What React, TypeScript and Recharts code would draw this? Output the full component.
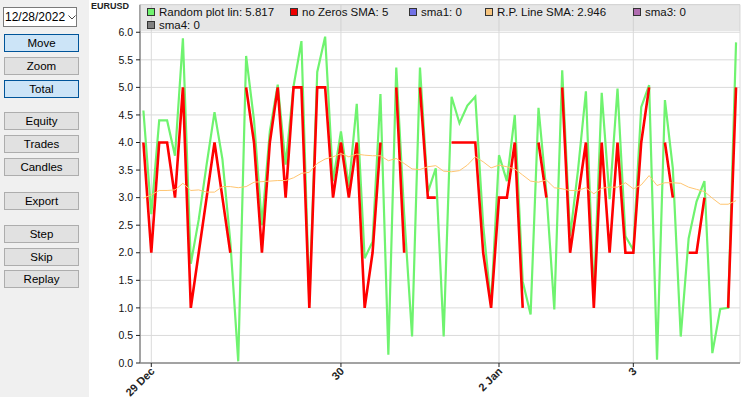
import React from 'react';
import { LineChart, Line, XAxis, YAxis, CartesianGrid } from 'recharts';

// hourly bars, index 0 = 28 Dec 23:00
const randomPlot = [
  4.58, 2.7, 4.4, 4.4, 3.76, 5.89, 1.8, 2.6, 3.6, 4.55,
  3.7, 2.2, 0.03, 5.57, 4.4, 2.5, 4.2, 5.05, 3.6, 5.02,
  5.84, 1.1, 5.28, 5.92, 3.3, 4.2, 3.2, 4.7, 1.9, 2.2,
  4.88, 0.15, 5.36, 2.7, 0.48, 5.36, 3.1, 3.53, 0.48, 4.83,
  4.35, 4.67, 4.83, 2.5, 1.05, 3.77, 3.3, 4.5, 1.48, 0.88,
  4.63, 3.1, 0.97, 5.31, 2.3, 3.5, 4.93, 1.2, 4.9, 2.97,
  4.98, 2.3, 2.05, 4.64, 5.04, 0.06, 4.77, 3.53, 0.48, 2.26,
  2.93, 3.3, 0.18, 0.98, 1.0, 5.817,
];

const noZeros = [
  4, 2, 4, 4, 3, 5, 1, 2, 3, 4,
  3, 2, null, 5, 4, 2, 4, 5, 3, 5,
  5, 1, 5, 5, 3, 4, 3, 4, 1, 2,
  4, null, 5, 2, null, 5, 3, 3, null, 4,
  4, 4, 4, 2, 1, 3, 3, 4, 1, null,
  4, 3, null, 5, 2, 3, 4, 1, 4, 2,
  4, 2, 2, 4, 5, null, 4, 3, null, 2,
  2, 3, null, null, 1, 5,
];

const rpLineSma = [
  2.99, 3.05, 3.13, 3.13, 3.14, 3.26, 3.13, 3.14, 3.1, 3.1,
  3.2, 3.2, 3.18, 3.2, 3.28, 3.29, 3.3, 3.31, 3.31, 3.36,
  3.44, 3.46, 3.62, 3.7, 3.74, 3.8, 3.74, 3.79, 3.77, 3.76,
  3.76, 3.67, 3.71, 3.62, 3.52, 3.51, 3.56, 3.58, 3.48, 3.47,
  3.49, 3.59, 3.74, 3.65, 3.54, 3.59, 3.56, 3.52, 3.41, 3.3,
  3.28, 3.32, 3.18, 3.16, 3.13, 3.13, 3.18, 3.07, 3.17, 3.19,
  3.19, 3.27, 3.16, 3.23, 3.4, 3.22, 3.27, 3.27, 3.26, 3.19,
  3.15, 3.11, 2.99, 2.88, 2.88, 2.946,
];

const dayTickIdx = [1, 25, 45, 62];
const dayTickLabels = ['29 Dec', '30', '2 Jan', '3'];
const yTicks = [0, 0.5, 1, 1.5, 2, 2.5, 3, 3.5, 4, 4.5, 5, 5.5, 6];

const buttonLabels = ['Move', 'Zoom', 'Total', 'Equity', 'Trades', 'Candles', 'Export', 'Step', 'Skip', 'Replay'];
const buttonTops = [34, 57, 80, 112, 135, 158, 192, 225, 248, 270];
const activeButtons = ['Move', 'Total'];

const FONT = '"Liberation Sans", Arial, sans-serif';

const data = randomPlot.map((v, i) => ({
  i,
  rnd: v,
  nz: noZeros[i],
  rp: rpLineSma[i],
}));

const last = (arr: (number | null)[]) => arr[arr.length - 1];

const legendRow1 = [
  { name: 'Random plot lin', value: String(last(randomPlot)), color: '#6ff36f', left: 147 },
  { name: 'no Zeros SMA', value: String(last(noZeros)), color: '#ee0000', left: 290 },
  { name: 'sma1', value: '0', color: '#7272e6', left: 409 },
  { name: 'R.P. Line SMA', value: String(last(rpLineSma)), color: '#f6c47e', left: 485 },
  { name: 'sma3', value: '0', color: '#b06cb0', left: 633 },
];
const legendRow2 = [{ name: 'sma4', value: '0', color: '#808080', left: 147 }];

const XTick = (props: any) => {
  const { x, y, payload } = props;
  const k = dayTickIdx.indexOf(payload.value);
  return (
    <g transform={`translate(${x + 4},${y + 5}) rotate(-45)`}>
      <text x={0} y={0} textAnchor="end" fontSize={11} fontWeight="bold" fill="#222" fontFamily={FONT}>
        {k >= 0 ? dayTickLabels[k] : ''}
      </text>
    </g>
  );
};

const LegendItem = ({ item, top }: { item: any; top: number }) => (
  <div style={{ position: 'absolute', left: item.left - 140, top, display: 'flex', alignItems: 'center', whiteSpace: 'nowrap' }}>
    <span style={{ width: 6, height: 6, background: item.color, border: '1px solid #333', display: 'inline-block', marginRight: 4 }} />
    <span style={{ fontSize: 11.5, color: '#111' }}>{`${item.name}: ${item.value}`}</span>
  </div>
);

export default function App() {
  return (
    <div style={{ position: 'absolute', left: 0, top: 0, width: 750, height: 397, background: '#fff', fontFamily: FONT, overflow: 'hidden' }}>
      {/* side panel */}
      <div style={{ position: 'absolute', left: 0, top: 0, width: 89, height: 397, background: '#f0f0f0' }} />
      <div style={{ position: 'absolute', left: 3, top: 7, width: 72, height: 18, background: '#fff', border: '1px solid #7a7a7a', overflow: 'hidden' }}>
        <span style={{ position: 'absolute', left: 1, top: 2, fontSize: 12, color: '#000' }}>12/28/2022</span>
        <svg style={{ position: 'absolute', left: 64, top: 7 }} width={8} height={5}>
          <polyline points="0.5,0.5 4,4 7.5,0.5" fill="none" stroke="#444" strokeWidth={1} />
        </svg>
      </div>
      {buttonLabels.map((label, k) => {
        const on = activeButtons.includes(label);
        return (
          <div
            key={label}
            style={{
              position: 'absolute', left: 4, top: buttonTops[k], width: 73, height: 16,
              background: on ? '#cce4f7' : '#e1e1e1',
              border: `1px solid ${on ? '#005499' : '#adadad'}`,
              fontSize: 11.5, lineHeight: '16px', textAlign: 'center', color: '#000',
            }}
          >
            {label}
          </div>
        );
      })}

      <div style={{ position: 'absolute', left: 91, top: 1, fontSize: 9, fontWeight: 'bold', color: '#222' }}>EURUSD</div>

      <div style={{ position: 'absolute', left: 0, top: 0 }}>
        <LineChart width={750} height={397} data={data} margin={{ top: 4.7, right: 10, bottom: 0, left: 100 }}>
          <CartesianGrid stroke="#dadada" strokeWidth={1} />
          <XAxis
            dataKey="i"
            type="number"
            domain={[-0.43, 75.5]}
            allowDataOverflow
            ticks={dayTickIdx}
            interval={0}
            height={34}
            tickSize={4}
            tickMargin={0}
            tick={<XTick />}
            axisLine={{ stroke: '#8a8a8a', strokeWidth: 1.5 }}
            tickLine={{ stroke: '#222' }}
          />
          <YAxis
            type="number"
            domain={[0, 6.5]}
            allowDataOverflow
            ticks={yTicks}
            interval={0}
            width={40}
            tickSize={4}
            tickMargin={3}
            tickFormatter={(v: number) => v.toFixed(1)}
            tick={{ fontSize: 10.5, fill: '#111', fontFamily: FONT }}
            axisLine={{ stroke: '#8a8a8a', strokeWidth: 1.5 }}
            tickLine={{ stroke: '#222' }}
          />
          <YAxis
            yAxisId="frame"
            orientation="right"
            domain={[0, 6.5]}
            width={0}
            tick={false}
            tickLine={false}
            axisLine={{ stroke: '#8a8a8a', strokeWidth: 1.5 }}
          />
          <Line type="linear" dataKey="rnd" stroke="#6ff36f" strokeWidth={2.2} dot={false} isAnimationActive={false} />
          <Line type="linear" dataKey="nz" stroke="#ff0000" strokeWidth={2.6} dot={false} connectNulls={false} isAnimationActive={false} />
          <Line type="linear" dataKey="rp" stroke="#ffc570" strokeWidth={1} dot={false} isAnimationActive={false} />
        </LineChart>
      </div>

      {/* legend overlay */}
      <div style={{ position: 'absolute', left: 140, top: 4, width: 600, height: 27, background: 'rgba(200,200,200,0.45)' }}>
        {legendRow1.map((it) => (
          <LegendItem key={it.name} item={it} top={2} />
        ))}
        {legendRow2.map((it) => (
          <LegendItem key={it.name} item={it} top={15} />
        ))}
      </div>
    </div>
  );
}
